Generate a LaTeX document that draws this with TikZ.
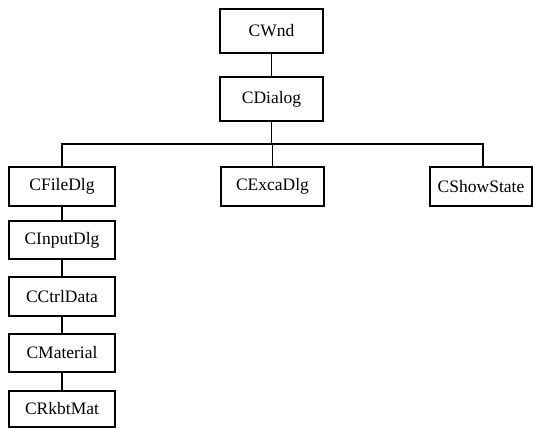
\documentclass[tikz,border=0pt]{standalone}
\usepackage{fontspec}
\setmainfont{Liberation Serif}
\begin{document}
\begin{tikzpicture}[x=1pt,y=-1pt,
  cls/.style={draw,line width=1.3pt,minimum width=103pt,minimum height=39pt,inner sep=0pt,font=\fontsize{17.5}{20}\selectfont},
  link/.style={line width=1.1pt}]
\useasboundingbox (0,0) rectangle (533,428);
\node[cls,minimum height=44pt] (wnd) at (271.5,31) {CWnd};
\node[cls,minimum height=44pt] (dlg) at (271.5,99) {CDialog};
\node[cls,minimum width=106pt] (fd) at (62,186.5) {CFileDlg};
\node[cls,minimum width=106pt,minimum height=38pt] (in) at (62,240) {CInputDlg};
\node[cls,minimum width=106pt] (cd) at (62,296.5) {CCtrlData};
\node[cls,minimum width=106pt,minimum height=38pt] (mat) at (62,353) {CMaterial};
\node[cls,minimum width=106pt,minimum height=36pt] (rk) at (62,409) {CRkbtMat};
\node[cls] (ex) at (272.5,186.5) {CExcaDlg};
\node[cls,minimum width=102pt] (ss) at (481,186.5) {CShowState};
\coordinate (bus) at (0,144);
\draw[link] (wnd) -- (dlg);
\draw[link] (dlg.south) -- (dlg.south |- bus);
\draw[link] (fd.north) -- (fd.north |- bus) -| ([xshift=2pt]ss.north);
\draw[link] (ex.north) -- (ex.north |- bus);
\draw[link] (fd) -- (in);
\draw[link] (in) -- (cd);
\draw[link] (cd) -- (mat);
\draw[link] (mat) -- (rk);
\end{tikzpicture}
\end{document}
